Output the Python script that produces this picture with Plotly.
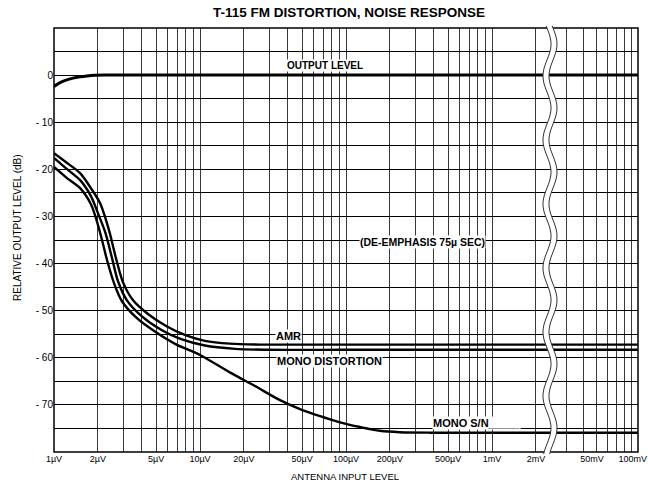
import numpy as np
import plotly.graph_objects as go

# ---------------- data (input level in microvolts, level in dB) -------------
output_uV = [1, 1.1, 1.21, 1.35, 1.51, 1.68, 1.91, 2.24, 5, 20, 100, 500, 2000, 30000, 100000]
output_db = [-2.4, -1.6, -1.06, -0.64, -0.36, -0.17, -0.04, 0, 0, 0, 0, 0, 0, 0, 0]

amr_uV = [1, 1.21, 1.51, 1.79, 2.07, 2.38, 2.66, 2.97, 3.48, 4.4, 5.9, 7.95, 10.8, 16,
          25.8, 100, 1000, 2000, 30000, 100000]
amr_db = [-16.6, -18.5, -20.8, -24.0, -27.2, -32.9, -38.9, -44.0, -47.8, -50.7, -53.3, -55.2,
          -56.4, -57.0, -57.2, -57.2, -57.2, -57.2, -57.2, -57.2]

dist_uV = [1, 1.21, 1.51, 1.79, 2.0, 2.24, 2.5, 2.74, 3.16, 4.0, 5.45, 7.35, 10.8, 17.4,
           27.9, 100, 1000, 2000, 30000, 100000]
dist_db = [-17.6, -19.8, -22.3, -25.7, -29.3, -33.3, -38.9, -43.7, -47.8, -51.2, -54.1, -56.0,
           -57.4, -58.1, -58.3, -58.3, -58.3, -58.3, -58.3, -58.3]

sn_uV = [1, 1.21, 1.51, 1.79, 1.94, 2.1, 2.31, 2.58, 2.92, 3.7, 5.0, 6.8, 10, 16, 23.8,
         35.3, 48.4, 66.4, 91, 125, 171, 234, 376, 1000, 2000, 30000, 100000]
sn_db = [-19.5, -21.7, -24.0, -27.4, -30.4, -34.2, -39.3, -44.2, -48.0, -51.6, -54.6, -57.1,
         -59.4, -63.1, -66.0, -69.0, -70.9, -72.4, -73.7, -74.7, -75.5, -75.8, -75.9, -75.9,
         -75.9, -75.9, -75.9]

# axis ticks (values in microvolts)
seg1_grid_uV = [m * 10 ** e for e in range(0, 3) for m in range(1, 10)] + [1000, 2000]
seg1_labels = {1: "1µV", 2: "2µV", 5: "5µV", 10: "10µV", 20: "20µV", 50: "50µV",
               100: "100µV", 200: "200µV", 500: "500µV", 1000: "1mV", 2000: "2mV"}
seg2_grid_uV = [20000, 30000, 40000, 50000, 60000, 70000, 80000, 90000, 100000]
seg2_labels = {50000: "50mV", 100000: "100mV"}
y_grid = list(range(-80, 11, 5))
y_labels = {0: "0", -10: "- 10", -20: "- 20", -30: "- 30", -40: "- 40", -50: "- 50",
            -60: "- 60", -70: "- 70"}

TITLE = "T-115 FM DISTORTION, NOISE RESPONSE"

# ---------------- layout geometry -------------
W, H = 648, 482
L, R, T, B = 54, 10, 28, 30
PW = W - L - R
PH = H - T - B
PX_PER_DEC1 = 146.0
PX_PER_DEC2 = 136.0
BREAK_PX = 552  # absolute pixel of the junction
d1 = (BREAK_PX - L) / PW
r1 = [-6, -6 + (BREAK_PX - L) / PX_PER_DEC1]
r2 = [-1 - (W - R - BREAK_PX) / PX_PER_DEC2, -0.998]


def px2paper(px, py):
    return (px - L) / PW, (H - B - py) / PH


def uv(a):
    return [v * 1e-6 for v in a]


FONT = "Liberation Sans, Arial, Helvetica, sans-serif"

fig = go.Figure()
curves = [
    (output_uV, output_db, 3.0),
    (amr_uV, amr_db, 2.4),
    (dist_uV, dist_db, 2.4),
    (sn_uV, sn_db, 2.4),
]
for xs, ys, w in curves:
    for xa in ("x", "x2"):
        fig.add_trace(go.Scatter(x=uv(xs), y=ys, xaxis=xa, yaxis="y", mode="lines",
                                 line=dict(color="black", width=w, shape="spline", smoothing=0.8),
                                 showlegend=False, hoverinfo="skip"))

common_x = dict(type="log", showgrid=True, gridcolor="#3a3a3a", gridwidth=1, zeroline=False,
                showline=False, ticks="", tickfont=dict(family=FONT, size=9, color="black"),
                anchor="y", fixedrange=True, automargin=False, ticklabeloverflow="allow")

fig.update_layout(
    width=W, height=H,
    margin=dict(l=L, r=R, t=T, b=B, pad=0),
    paper_bgcolor="white", plot_bgcolor="white",
    showlegend=False,
    xaxis=dict(domain=[0, d1], range=r1, tickvals=uv(seg1_grid_uV),
               ticktext=[seg1_labels.get(v, "") for v in seg1_grid_uV], **common_x),
    xaxis2=dict(domain=[d1, 1], range=r2, tickvals=uv(seg2_grid_uV), ticklabelshift=-5,
                ticktext=[seg2_labels.get(v, "") for v in seg2_grid_uV], **common_x),
    yaxis=dict(range=[-80, 10], domain=[0, 1], tickvals=y_grid,
               ticktext=[y_labels.get(v, "") for v in y_grid], showgrid=True,
               gridcolor="black", gridwidth=1, zeroline=False, showline=False, ticks="",
               tickfont=dict(family=FONT, size=10, color="black"), fixedrange=True,
               automargin=False),
)

# frame
fig.add_shape(type="rect", xref="paper", yref="paper", x0=0, x1=1, y0=0, y1=1,
              line=dict(color="black", width=1.5), layer="above")

# wavy axis break (decoration)
ys_px = np.arange(T - 2, H - B + 3, 2.0)
left_x = 547 + 4 * np.sin(2 * np.pi * (ys_px - T) / 64.0)
right_x = left_x + 6
lp = [px2paper(a, b) for a, b in zip(left_x, ys_px)]
rp = [px2paper(a, b) for a, b in zip(right_x, ys_px)]
fill_path = "M " + " L ".join(f"{a:.5f},{b:.5f}" for a, b in lp) + " L " + \
            " L ".join(f"{a:.5f},{b:.5f}" for a, b in rp[::-1]) + " Z"
fig.add_shape(type="path", xref="paper", yref="paper", path=fill_path,
              fillcolor="white", line=dict(width=0), layer="above")
for pts in (lp, rp):
    p = "M " + " L ".join(f"{a:.5f},{b:.5f}" for a, b in pts)
    fig.add_shape(type="path", xref="paper", yref="paper", path=p,
                  line=dict(color="#333", width=1), layer="above")

# title and axis titles
fig.add_annotation(text=f"<b>{TITLE}</b>", xref="paper", yref="paper",
                   x=px2paper(349, 0)[0], y=px2paper(0, 13)[1], showarrow=False,
                   font=dict(family=FONT, size=13.5, color="black"), xanchor="center",
                   yanchor="middle")
fig.add_annotation(text="ANTENNA INPUT LEVEL", xref="paper", yref="paper",
                   x=px2paper(345, 0)[0], y=px2paper(0, 476)[1], showarrow=False,
                   font=dict(family=FONT, size=9.5, color="black"), xanchor="center",
                   yanchor="middle")
fig.add_annotation(text="RELATIVE OUTPUT LEVEL (dB)", xref="paper", yref="paper",
                   x=px2paper(17, 0)[0], y=px2paper(0, 228)[1], showarrow=False,
                   textangle=-90, font=dict(family=FONT, size=10, color="black"),
                   xanchor="center", yanchor="middle")

# in-plot labels
labels = [
    ("<b>OUTPUT LEVEL</b>", 325, 65, 10, "center"),
    ("<b>(DE-EMPHASIS 75µ SEC)</b>", 422, 242, 10.5, "center"),
    ("<b>AMR</b>", 288, 336, 11, "center"),
    ("<b>MONO DISTORTION</b>", 329, 361, 11, "center"),
    ("<b>MONO S/N_____</b>", 432, 423, 11, "left"),
]
for txt, px, py, fs, xa in labels:
    ax, ay = px2paper(px, py)
    fig.add_annotation(text=txt, xref="paper", yref="paper", x=ax, y=ay, showarrow=False,
                       font=dict(family=FONT, size=fs, color="black"), xanchor=xa,
                       yanchor="middle", bgcolor="white", borderpad=0)

fig.write_html("out.html", config={"displayModeBar": False},
               post_script="document.body.style.margin='0px';document.body.style.overflow='hidden';")
